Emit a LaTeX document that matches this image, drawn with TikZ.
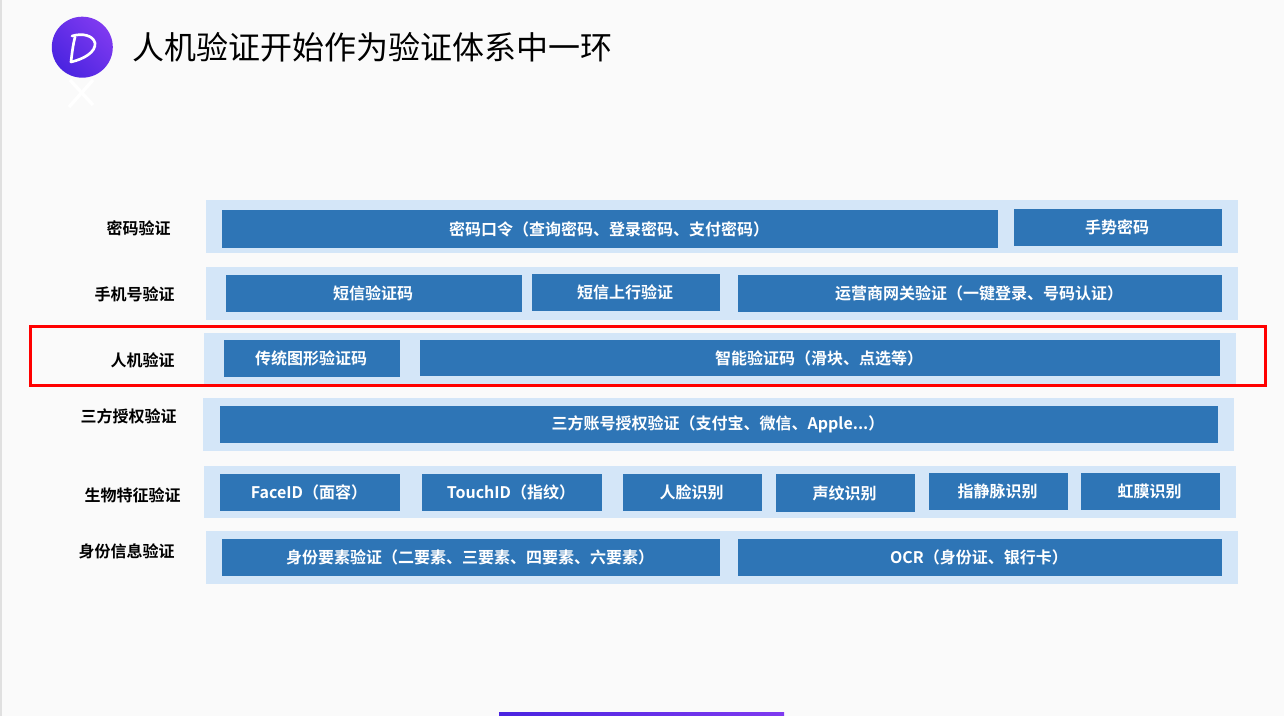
\documentclass[tikz,border=0pt]{standalone}
\usepackage{fontspec}
\setmainfont{Noto Sans CJK SC}
\newfontfamily\labelfont{Noto Sans CJK SC}[BoldFont={* Bold}]
\definecolor{pagebg}{HTML}{FAFAFA}
\definecolor{pageedge}{HTML}{E0E0E0}
\definecolor{rowbg}{HTML}{D4E6F8}
\definecolor{barblue}{HTML}{2E75B6}
\definecolor{violetA}{HTML}{4A24E0}
\definecolor{violetB}{HTML}{7F3AF0}
\tikzset{
  x=0.75pt,y=-0.75pt,
  rowbar/.style={fill=rowbg,draw=none,anchor=north west,inner sep=0pt},
  itembar/.style={fill=barblue,draw=none,inner sep=0pt,text=white,font=\labelfont\bfseries\fontsize{12}{14}\selectfont},
  rowlabel/.style={text=black,inner sep=0pt,font=\labelfont\bfseries\fontsize{12}{14}\selectfont},
  titletext/.style={text=black,inner sep=0pt,anchor=west,font=\labelfont\fontsize{24}{28}\selectfont},
  logostroke/.style={draw=white,line cap=round,line join=round},
}
% name, x1, y1, x2, y2, text
\newcommand{\itemrect}[6]{%
  \pgfmathsetmacro{\rw}{(#4-#2)*0.75}\pgfmathsetmacro{\rh}{(#5-#3)*0.75}%
  \node[itembar,minimum width=\rw pt,minimum height=\rh pt] (#1) at ({(#2+#4)/2},{(#3+#5)/2}) {\hspace*{-1.5pt}#6};}
\newcommand{\rowrect}[5]{%
  \pgfmathsetmacro{\rw}{(#4-#2)*0.75}\pgfmathsetmacro{\rh}{(#5-#3)*0.75}%
  \node[rowbar,minimum width=\rw pt,minimum height=\rh pt] (#1) at (#2,#3) {};}
\begin{document}
\begin{tikzpicture}
\useasboundingbox (0,0) rectangle (1284,716);
\fill[pagebg] (0,0) rectangle (1284,716);
\fill[pageedge] (0,0) rectangle (2,716);

% logo
\shade[bottom color=violetA,top color=violetB,shading angle=-45]
  (82.3,47.2) circle (30.5);
\draw[logostroke,line width=2pt] (75,37) .. controls (73,45) and (72,53) .. (71,62);
\draw[logostroke,line width=2pt] (72,36) .. controls (82,33) and (93,35) .. (95,43)
  .. controls (96,52) and (84,59) .. (71,62);
\draw[logostroke,line width=2.5pt,line cap=butt] (70,80) -- (93,105);
\draw[logostroke,line width=2.5pt,line cap=butt] (93,80) -- (69,107);

\node[titletext] (title) at (132.3,47) {人机验证开始作为验证体系中一环};

% rows
\rowrect{r1}{206}{200}{1238}{253}
\rowrect{r2}{206}{267}{1238}{320}
\rowrect{r3}{204}{333}{1236}{384}
\rowrect{r4}{203}{398}{1234}{451}
\rowrect{r5}{204}{466}{1236}{518}
\rowrect{r6}{206}{531}{1238}{584}

% labels
\node[rowlabel] (l1) at (138.6,228) {密码验证};
\node[rowlabel] (l2) at (134.6,294) {手机号验证};
\node[rowlabel] (l3) at (142.6,360) {人机验证};
\node[rowlabel] (l4) at (128.6,416) {三方授权验证};
\node[rowlabel] (l5) at (132.6,495) {生物特征验证};
\node[rowlabel] (l6) at (126.6,551) {身份信息验证};

% items
\itemrect{a1}{222}{210}{998}{248}{密码口令（查询密码、登录密码、支付密码）}
\itemrect{a2}{1014}{209}{1222}{246}{手势密码}
\itemrect{b1}{226}{275}{522}{312}{短信验证码}
\itemrect{b2}{532}{274}{720}{311}{短信上行验证}
\itemrect{b3}{738}{275}{1222}{312}{运营商网关验证（一键登录、号码认证）}
\itemrect{c1}{224}{340}{400}{377}{传统图形验证码}
\itemrect{c2}{420}{340}{1220}{376}{智能验证码（滑块、点选等）}
\itemrect{d1}{220}{406}{1218}{443}{三方账号授权验证（支付宝、微信、Apple...）}
\itemrect{e1}{220}{474}{400}{511}{FaceID（面容）}
\itemrect{e2}{422}{474}{602}{511}{TouchID（指纹）}
\itemrect{e3}{623}{474}{762}{511}{人脸识别}
\itemrect{e4}{776}{474}{915}{512}{声纹识别}
\itemrect{e5}{929}{473}{1068}{510}{指静脉识别}
\itemrect{e6}{1081}{473}{1220}{510}{虹膜识别}
\itemrect{f1}{222}{539}{720}{576}{身份要素验证（二要素、三要素、四要素、六要素）}
\itemrect{f2}{738}{539}{1222}{576}{OCR（身份证、银行卡）}

% highlight
\draw[red,line width=2.25pt] (30.5,326.5) rectangle (1265.5,385.5);

% bottom bar
\shade[left color=violetA,right color=violetB] (499,712) rectangle (784,716);
\end{tikzpicture}
\end{document}
